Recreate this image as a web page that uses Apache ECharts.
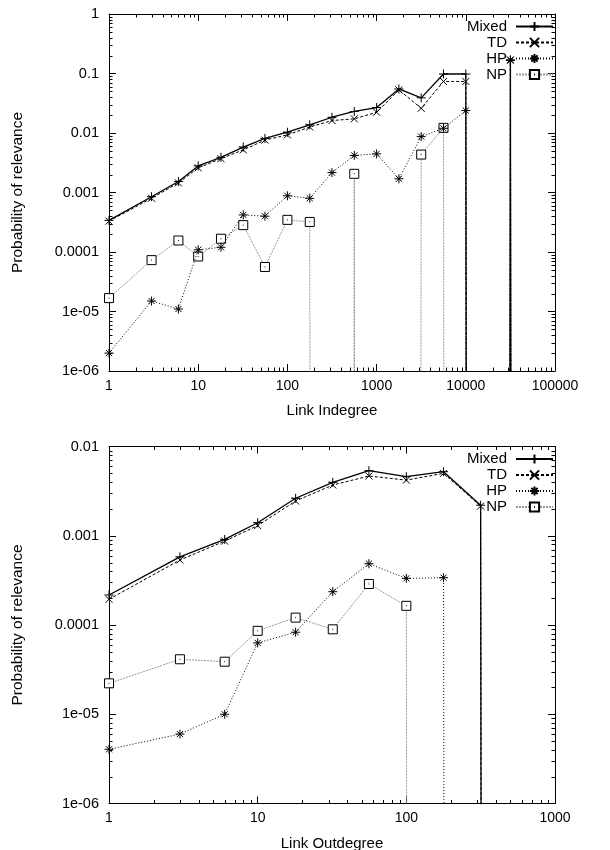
<!DOCTYPE html>
<html>
<head>
<meta charset="utf-8">
<script src="https://cdn.jsdelivr.net/npm/echarts@6/dist/echarts.min.js"></script>
<style>
html,body{margin:0;padding:0;background:#fff;}
#chart{width:610px;height:850px;}
</style>
</head>
<body>
<div id="chart"></div>
<script>
// ---- data (0 = zero probability, drawn as a drop to the bottom) ----
const seriesNames = ['Mixed', 'TD', 'HP', 'NP'];

const indegreeX = [1, 3, 6, 10, 18, 32, 56, 100, 178, 316, 562, 1000, 1778, 3162, 5623, 10000, 17783, 31623, 56234];
const indegreeMixed = [3.4e-4, 8.5e-4, 1.53e-3, 2.8e-3, 3.9e-3, 5.8e-3, 8.1e-3, 0.0103, 0.0137, 0.0184, 0.023, 0.0268, 0.055, 0.039, 0.098, 0.098, 0, 0.17, 0];
const indegreeTD = [3.3e-4, 8.0e-4, 1.45e-3, 2.6e-3, 3.7e-3, 5.2e-3, 7.6e-3, 9.3e-3, 0.0126, 0.0162, 0.0173, 0.0223, 0.053, 0.026, 0.0735, 0.0735, 0, 0.17, 0];
const indegreeHP = [2.0e-6, 1.5e-5, 1.1e-5, 1.09e-4, 1.2e-4, 4.2e-4, 4.0e-4, 8.8e-4, 8.0e-4, 2.16e-3, 4.2e-3, 4.46e-3, 1.7e-3, 8.7e-3, 0.012, 0.0238, 0, 0.165, 0];
const indegreeNP = [1.68e-5, 7.3e-5, 1.56e-4, 8.4e-5, 1.67e-4, 2.83e-4, 5.6e-5, 3.47e-4, 3.2e-4, 0, 2.06e-3, 0, 0, 4.34e-3, 0.0122, 0, 0, 0, 0];

const outdegreeX = [1, 3, 6, 10, 18, 32, 56, 100, 178, 316, 562];
const outdegreeMixed = [2.17e-4, 5.8e-4, 9.1e-4, 1.4e-3, 2.63e-3, 3.97e-3, 5.36e-3, 4.59e-3, 5.22e-3, 2.2e-3, 0];
const outdegreeTD = [1.94e-4, 5.35e-4, 8.7e-4, 1.3e-3, 2.45e-3, 3.7e-3, 4.67e-3, 4.2e-3, 5.0e-3, 2.15e-3, 0];
const outdegreeHP = [4.05e-6, 6.0e-6, 1.0e-5, 6.3e-5, 8.3e-5, 2.36e-4, 4.86e-4, 3.33e-4, 3.39e-4, 0, 0];
const outdegreeNP = [2.22e-5, 4.13e-5, 3.88e-5, 8.6e-5, 1.21e-4, 8.95e-5, 2.88e-4, 1.64e-4, 0, 0, 0];

const topXTicks = ['1', '10', '100', '1000', '10000', '100000'];
const topYTicks = ['1e-06', '1e-05', '0.0001', '0.001', '0.01', '0.1', '1'];
const botXTicks = ['1', '10', '100', '1000'];
const botYTicks = ['1e-06', '1e-05', '0.0001', '0.001', '0.01'];

// ---- build ----
const FONT = "'Liberation Sans', Arial, Helvetica, sans-serif";
const ZERO = 1e-300;
function pairs(xs, ys) { return xs.map((x, i) => [x, ys[i] > 0 ? ys[i] : ZERO]); }
function lblFmt(labels, minExp) {
  return v => { const k = Math.round(Math.log10(v)) - minExp; return labels[k] !== undefined ? labels[k] : ''; };
}
const styles = {
  Mixed: { symbol: 'path://M0,5L10,5M5,0L5,10', size: 9, line: { color: '#000', width: 1.3, type: 'solid' }, fill: '#000' },
  TD: { symbol: 'path://M0,0L10,10M10,0L0,10', size: 7, line: { color: '#000', width: 1, type: [3, 2] }, fill: '#000' },
  HP: { symbol: 'path://M0,5L10,5M5,0L5,10M1.6,1.6L8.4,8.4M8.4,1.6L1.6,8.4', size: 9, line: { color: '#000', width: 1, type: [1, 2] }, fill: '#000' },
  NP: { symbol: 'path://M0,0L10,0L10,10L0,10ZM4.5,5L5.5,5', size: 9, line: { color: '#999', width: 1, type: [2, 1] }, fill: '#fff' }
};
function mkSeries(name, xs, ys, gi) {
  const s = styles[name];
  return {
    type: 'line', name: name, xAxisIndex: gi * 2, yAxisIndex: gi * 2,
    data: pairs(xs, ys), symbol: s.symbol, symbolSize: s.size, showAllSymbol: true,
    lineStyle: s.line, itemStyle: { color: s.fill, borderColor: '#000', borderWidth: 1 },
    clip: true, animation: false, silent: true, z: name === 'NP' ? 2 : (name === 'HP' ? 3 : (name === 'TD' ? 4 : 5))
  };
}
function minorValues(minExp, maxExp) {
  const out = [];
  for (let e = minExp; e < maxExp; e++) for (let m = 2; m <= 9; m++) out.push(m * Math.pow(10, e));
  return out;
}
function minorSeries(gi, xMin, xMax, yMin, yMax, xE0, xE1, yE0, yE1) {
  const data = [];
  minorValues(xE0, xE1).forEach(v => data.push([v, yMin, 0]));
  minorValues(yE0, yE1).forEach(v => data.push([xMin, v, 1]));
  return {
    type: 'custom', xAxisIndex: gi * 2, yAxisIndex: gi * 2, data: data, silent: true, animation: false, clip: false, z: 1,
    renderItem: function (params, api) {
      const cs = params.coordSys;
      const p = api.coord([api.value(0), api.value(1)]);
      const L = 3.5, st = { stroke: '#000', lineWidth: 1 };
      if (api.value(2) === 0) {
        const x = Math.round(p[0]) + 0.5;
        return { type: 'group', children: [
          { type: 'line', shape: { x1: x, y1: cs.y + cs.height, x2: x, y2: cs.y + cs.height - L }, style: st },
          { type: 'line', shape: { x1: x, y1: cs.y, x2: x, y2: cs.y + L }, style: st }
        ] };
      }
      const y = Math.round(p[1]) + 0.5;
      return { type: 'group', children: [
        { type: 'line', shape: { x1: cs.x, y1: y, x2: cs.x + L, y2: y }, style: st },
        { type: 'line', shape: { x1: cs.x + cs.width, y1: y, x2: cs.x + cs.width - L, y2: y }, style: st }
      ] };
    }
  };
}
const axisCommon = {
  type: 'log', logBase: 10,
  axisLine: { show: true, lineStyle: { color: '#000', width: 1 } },
  axisTick: { show: true, inside: true, length: 7, lineStyle: { color: '#000', width: 1 } },
  splitLine: { show: false }, minorTick: { show: false }
};
function xAx(gi, max, splitN, labels, name, gap, mirror) {
  return Object.assign({}, axisCommon, {
    gridIndex: gi, min: 1, max: max, splitNumber: splitN, position: mirror ? 'top' : 'bottom',
    axisLabel: { show: !mirror, formatter: lblFmt(labels, 0), margin: 8, color: '#000', fontSize: 14, fontFamily: FONT },
    name: mirror ? '' : name, nameLocation: 'middle', nameGap: gap,
    nameTextStyle: { color: '#000', fontSize: 15, fontFamily: FONT }
  });
}
function yAx(gi, min, max, splitN, labels, minExp, mirror) {
  return Object.assign({}, axisCommon, {
    gridIndex: gi, min: min, max: max, splitNumber: splitN, position: mirror ? 'right' : 'left',
    axisLabel: { show: !mirror, formatter: lblFmt(labels, minExp), margin: 10, color: '#000', fontSize: 14.5, fontFamily: FONT },
    name: mirror ? '' : 'Probability of relevance', nameLocation: 'middle', nameGap: 83, nameRotate: 90,
    nameTextStyle: { color: '#000', fontSize: 15.5, fontFamily: FONT }
  });
}
function legend(top) {
  return {
    data: seriesNames, orient: 'vertical', right: 51, top: top, align: 'right',
    itemWidth: 37, itemHeight: 11.5, itemGap: 1, selectedMode: false,
    textStyle: { color: '#000', fontSize: 15, fontFamily: FONT, lineHeight: 14, padding: [0, 4, 0, 0] }
  };
}
const option = {
  backgroundColor: '#fff', animation: false,
  grid: [
    { left: 109, top: 14, width: 446, height: 357, containLabel: false, outerBoundsMode: 'none' },
    { left: 109, top: 446.5, width: 446, height: 357, containLabel: false, outerBoundsMode: 'none' }
  ],
  legend: [legend(14), legend(446.5)],
  xAxis: [
    xAx(0, 100000, 5, topXTicks, 'Link Indegree', 32, false),
    xAx(0, 100000, 5, topXTicks, '', 0, true),
    xAx(1, 1000, 3, botXTicks, 'Link Outdegree', 33, false),
    xAx(1, 1000, 3, botXTicks, '', 0, true)
  ],
  yAxis: [
    yAx(0, 1e-6, 1, 6, topYTicks, -6, false),
    yAx(0, 1e-6, 1, 6, topYTicks, -6, true),
    yAx(1, 1e-6, 0.01, 4, botYTicks, -6, false),
    yAx(1, 1e-6, 0.01, 4, botYTicks, -6, true)
  ],
  series: [
    minorSeries(0, 1, 100000, 1e-6, 1, 0, 5, -6, 0),
    minorSeries(1, 1, 1000, 1e-6, 0.01, 0, 3, -6, -2),
    mkSeries('NP', indegreeX, indegreeNP, 0),
    mkSeries('HP', indegreeX, indegreeHP, 0),
    mkSeries('TD', indegreeX, indegreeTD, 0),
    mkSeries('Mixed', indegreeX, indegreeMixed, 0),
    mkSeries('NP', outdegreeX, outdegreeNP, 1),
    mkSeries('HP', outdegreeX, outdegreeHP, 1),
    mkSeries('TD', outdegreeX, outdegreeTD, 1),
    mkSeries('Mixed', outdegreeX, outdegreeMixed, 1)
  ]
};
const chart = echarts.init(document.getElementById('chart'), null, { renderer: 'canvas' });
chart.setOption(option);
</script>
</body>
</html>
